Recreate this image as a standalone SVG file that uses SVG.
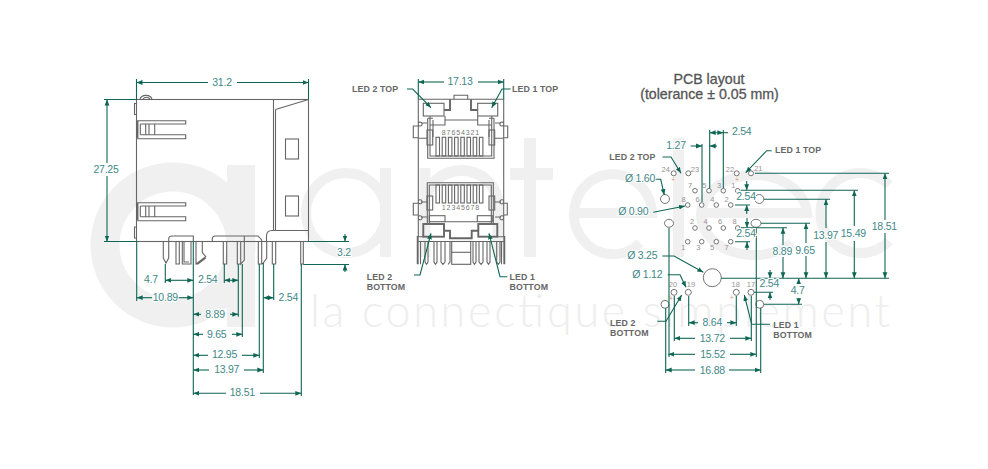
<svg xmlns="http://www.w3.org/2000/svg" width="988" height="469" viewBox="0 0 988 469">
<style>
text{font-family:"Liberation Sans",Arial,sans-serif}
.wm{fill:none;stroke:#f0f0f0}
.wt{font-family:"Lato","Liberation Sans",sans-serif;font-weight:300;font-size:45px;fill:#eeeeee}
.s{fill:none;stroke:#666;stroke-width:1.1}
.b{fill:none;stroke:#666;stroke-width:1.9}
.h{fill:#fff;stroke:#666;stroke-width:.9}
.d{fill:none;stroke:#0f6654;stroke-width:1.1}
.a{fill:none;stroke:#0f6654;stroke-width:1.1;marker-end:url(#ah)}
.t{font-size:10.5px;letter-spacing:-.25px;fill:#3f8888;text-anchor:middle;stroke:#fff;stroke-width:2px;paint-order:stroke}
.l{font-size:8.8px;font-weight:700;fill:#666;letter-spacing:.1px}
.n{font-size:7.5px;fill:#9a8f92;text-anchor:middle}
.p{font-size:7px;fill:#d39a7a;text-anchor:middle}
.c{font-size:7px;fill:#777;text-anchor:middle;letter-spacing:.9px}
.ti{font-size:14.2px;fill:#555;text-anchor:middle;stroke:#555;stroke-width:.3px}
</style>
<defs>
<marker id="ah" markerUnits="userSpaceOnUse" markerWidth="7" markerHeight="6" refX="6" refY="3" orient="auto"><path d="M0 .6L6 3L0 5.4z" fill="#0f6654"/></marker>
</defs>
<g id="watermark">
<circle class="wm" cx="173" cy="245" r="68" stroke-width="29"/>
<rect x="227" y="165" width="28" height="162" fill="#f0f0f0"/>
<circle class="wm" cx="346" cy="213" r="40" stroke-width="10"/>
<rect x="380" y="168" width="11" height="89" fill="#f0f0f0"/>
<path class="wm" stroke-width="11" d="M425 168V257M425 205A35 33 0 0 1 498 205V257"/>
<path class="wm" stroke-width="12" d="M530 138V257M510 174H553"/>
<path class="wm" stroke-width="10" d="M575 213H652A39 40 0 1 0 640 243"/>
<rect x="673" y="138" width="11" height="119" fill="#f0f0f0"/>
<path class="wm" stroke-width="10" d="M700 213H807A53 40 0 1 0 792 243"/>
<path class="wm" stroke-width="10" d="M889 185A40 40 0 1 0 889 241"/>
<text class="wt" x="310" y="327" textLength="580" lengthAdjust="spacing">la connectique simplement</text>
</g>
<g id="side-view">
<rect class="s" x="136.5" y="99.5" width="172" height="142"/>
<path class="s" d="M140 99.5C141 94 151 94 152 99.5M143 99.5C144 96.5 149 96.5 150 99.5"/>
<path class="s" d="M136.5 103.500H134.500V114.500H136.500M136.500 227H134.500V238H136.500"/>
<path class="s" d="M273.500 99.500V230.500M275.500 109.500V230.500M275.500 109.500L308.500 99.500"/>
<rect class="s" x="285.500" y="139" width="13" height="20"/>
<rect class="s" x="285.500" y="196" width="13" height="20"/>
<path class="s" d="M266.500 241.500V236Q266.500 230.500 272 230.500H308.500"/>
<g id="clip-top">
<path class="b" d="M137.500 120.500V138.500"/>
<path class="s" d="M137.500 120.700H185.700V124H140.300M137.500 138.700H185.700V134.700H140.300"/>
<path class="s" d="M140.300 124V134.700M145.700 124V134.700M149 124V134.700M154.700 124V134.700"/>
</g>
<g id="clip-bottom">
<path class="b" d="M137.500 202.500V220.500"/>
<path class="s" d="M137.500 202.700H185.700V206H140.300M137.500 220.700H185.700V216.700H140.300"/>
<path class="s" d="M140.300 206V216.700M145.700 206V216.700M149 206V216.700M154.700 206V216.700"/>
</g>
<g id="pins-side">
<path class="s" d="M163.300 241.500V258L166 263L168.700 258V241.500M168.700 241.500V239Q168.700 236 172 236H193.300V241.500"/>
<path class="s" d="M176 241.500V264H179.300V241.500M182.300 241.500V264H191V241.500M184 241.500V262H189"/>
<path class="s" d="M196 241.500V264L205.700 256.700L202.300 252.500V241.500M196 264H198L205.700 258"/>
<path class="s" d="M223.300 241.500V264H226.700V241.500M237.300 241.500V264H240.700V241.500M240.700 241.500V264L244.300 260V236"/>
<path class="s" d="M212.300 241.500V239Q212.300 236 215 236H258L261.700 240V241.500"/>
<path class="s" d="M258.300 241.500V264H261.700V241.500M263.300 263L266.700 258V241.500M261.700 264L263.300 263"/>
<path class="s" d="M272.300 241.500V264H275.700V241.500M300.700 241.500V264H303.300V241.500"/>
</g>
</g>
<g id="front-view">
<path class="s" d="M418.300 99.300H503.700V237M418.300 99.300V237"/>
<path class="s" d="M454 99.300V95.300H467.700V99.300"/>
<rect class="s" x="423.300" y="103.300" width="20.700" height="12.700"/>
<rect class="s" x="477.700" y="103.300" width="20" height="12.700"/>
<path class="b" d="M444 110H450V99.300M477.700 110H471V99.300"/>
<path class="s" d="M430 116V120M445 116V125H430M445 120H477.700M477.700 116V125H491.700M491.700 116V120"/>
<path class="s" d="M427.700 118.300H433M494 118.300H489M427.700 118.300V158.300H494V118.300M430 120V156H491.700V120"/>
<path class="s" d="M433 120V137M489 120V137"/>
<g id="comb-top" class="s">
<rect x="436" y="137.300" width="3.500" height="18.700"/><rect x="442.200" y="137.300" width="3.500" height="18.700"/><rect x="448.400" y="137.300" width="3.500" height="18.700"/><rect x="454.600" y="137.300" width="3.500" height="18.700"/><rect x="460.800" y="137.300" width="3.500" height="18.700"/><rect x="467" y="137.300" width="3.500" height="18.700"/><rect x="473.200" y="137.300" width="3.500" height="18.700"/><rect x="479.400" y="137.300" width="3.500" height="18.700"/>
</g>
<rect class="s" x="427" y="130" width="5.700" height="15"/>
<rect class="s" x="489" y="130" width="5.700" height="15"/>
<path class="s" d="M418.300 126H413.300V137.700H418.300M503.700 126H507.700V137.700H503.700"/>
<path class="s" d="M418.300 123.300A2 2 0 1 1 418.300 124.800M418.300 138.300H427M503.700 123.300A2 2 0 1 0 503.700 124.800M503.700 138.300H495M421 123H427M495 123H501"/>
<text class="c" x="461" y="134.500">87654321</text>
<g id="comb-bottom" class="s">
<rect x="436" y="185" width="3.500" height="18"/><rect x="442.200" y="185" width="3.500" height="18"/><rect x="448.400" y="185" width="3.500" height="18"/><rect x="454.600" y="185" width="3.500" height="18"/><rect x="460.800" y="185" width="3.500" height="18"/><rect x="467" y="185" width="3.500" height="18"/><rect x="473.200" y="185" width="3.500" height="18"/><rect x="479.400" y="185" width="3.500" height="18"/>
</g>
<path class="s" d="M427.300 223V182.700H493.300V223M429.300 223V185H491.300V223M445 221.700H477.300"/>
<rect class="s" x="427" y="196" width="5.700" height="14"/>
<rect class="s" x="489" y="196" width="5.700" height="14"/>
<path class="s" d="M418.300 203.300H413.300V215H418.300M503.700 203.300H507.300V215H503.700"/>
<path class="s" d="M418.300 201A2 2 0 1 1 418.300 202.500M418.300 217A2 2 0 1 1 418.300 218.500M503.700 201A2 2 0 1 0 503.700 202.500M503.700 217A2 2 0 1 0 503.700 218.500M421 202H427M495 202H501M421 217H427M495 217H501"/>
<rect class="s" x="429.300" y="215.700" width="15.700" height="6"/>
<rect class="s" x="477.300" y="215.700" width="15" height="6"/>
<text class="c" x="461" y="210">12345678</text>
<rect class="b" x="423.300" y="224" width="20.700" height="12.700"/>
<rect class="b" x="478.300" y="224" width="19" height="12.700"/>
<path class="b" d="M444 230.700H450V238.300H471.700V230.700H478.300"/>
<path class="s" d="M418.300 241.500H504.300M418.300 236.700H423.300M497.300 236.700H503.700"/>
<g id="pins-front">
<path class="b" d="M417.700 236V264.300M504.300 236V264.300"/>
<path class="s" d="M420.500 241.500V264.300M501.500 241.500V264.300"/>
<path class="s" d="M425 241.500V262L426.500 264.300L428 262V241.500M434 241.500V262L435.500 264.300L437 262V241.500M441 241.500V262L443 264.300L445 262V241.500M450 241.500V262L448 264.300"/>
<path class="s" d="M473 241.500V262L474.500 264.300L476 262V241.500M479 241.500V262L481 264.300L483 262V241.500M487 241.500V262L488.500 264.300L490 262V241.500M496.700 241.500V262L498.300 264.300L500 262V241.500"/>
<rect class="s" x="451.700" y="241.500" width="19" height="22.800"/>
<path class="s" d="M451.700 252.300H470.700"/>
</g>
</g>
<g id="pcb-layout">
<text class="ti" x="709" y="84">PCB layout</text>
<text class="ti" x="709.500" y="99">(tolerance ± 0.05 mm)</text>
<g id="holes" class="h">
<circle cx="673.700" cy="173.300" r="2.500"/><circle cx="688.300" cy="173.300" r="2.500"/><circle cx="736.700" cy="173.300" r="2.500"/><circle cx="751" cy="173.300" r="2.500"/>
<circle cx="695" cy="190.700" r="2.300"/><circle cx="709" cy="190.700" r="2.300"/><circle cx="723.300" cy="190.700" r="2.300"/><circle cx="737.700" cy="190.700" r="2.300"/>
<circle cx="687.700" cy="205" r="2.300"/><circle cx="701.700" cy="205" r="2.300"/><circle cx="716.300" cy="205" r="2.300"/><circle cx="730.700" cy="205" r="2.300"/>
<circle cx="695" cy="228" r="2.300"/><circle cx="709" cy="228" r="2.300"/><circle cx="723.300" cy="228" r="2.300"/><circle cx="737.700" cy="228" r="2.300"/>
<circle cx="687.700" cy="241.700" r="2.300"/><circle cx="701.700" cy="241.700" r="2.300"/><circle cx="716.300" cy="241.700" r="2.300"/><circle cx="730.700" cy="241.700" r="2.300"/>
<circle cx="665" cy="199" r="4.500"/><circle cx="759.300" cy="199" r="4.500"/><ellipse cx="669" cy="223.300" rx="4.500" ry="4"/><ellipse cx="756" cy="223.300" rx="5" ry="4"/>
<circle cx="712.300" cy="277.700" r="9"/><circle cx="665" cy="304.300" r="4"/><circle cx="759.700" cy="304.300" r="4"/>
<circle cx="674" cy="292.300" r="3"/><circle cx="688.300" cy="292.300" r="3"/><circle cx="736.300" cy="292.300" r="3"/><circle cx="751" cy="292.300" r="3"/>
</g>
<g id="hole-labels">
<text class="n" x="665.700" y="171.500">24</text><text class="n" x="695" y="171.500">23</text><text class="n" x="730" y="171.500">22</text><text class="n" x="758.300" y="171">21</text>
<text class="n" x="690" y="188">7</text><text class="n" x="704.300" y="188">5</text><text class="n" x="719" y="188">3</text><text class="n" x="733.300" y="188">1</text>
<text class="n" x="683.700" y="202">8</text><text class="n" x="697.700" y="202">6</text><text class="n" x="712.300" y="202">4</text><text class="n" x="726.700" y="202">2</text>
<text class="n" x="692" y="223.500">2</text><text class="n" x="705.700" y="223.500">4</text><text class="n" x="720" y="223.500">6</text><text class="n" x="734.700" y="223.500">8</text>
<text class="n" x="683.300" y="250">1</text><text class="n" x="698.300" y="250">3</text><text class="n" x="712" y="250">5</text><text class="n" x="726.700" y="250">7</text>
<text class="n" x="673" y="287">20</text><text class="n" x="691" y="287">19</text><text class="n" x="735.700" y="286.500">18</text><text class="n" x="751" y="286.500">17</text>
<text class="p" x="673" y="182">+</text><text class="p" x="737" y="182">+</text><text class="p" x="671" y="301">+</text><text class="p" x="731.700" y="299.500">+</text>
</g>
</g>
<g id="connectors">
<g id="dims-side">
<path class="d" d="M136.500 79V99.500M308.500 79V99.500M104 99.500H136.500M104 241.500H136.500M308.500 241.500H349M303.300 264.500H349"/>
<path class="a" d="M208 82.500H136.500"/><path class="a" d="M237 82.500H308.500"/>
<path class="a" d="M107 163V99.500"/><path class="a" d="M107 176V241.500"/>
<path class="a" d="M345 234V241.500"/><path class="a" d="M345 272V264.500"/>
<path class="d" d="M165.300 264V283M193.300 241.500V395M224.300 264V283M238.300 264V316.700M136.700 241.500V301M242.300 264V337M259.300 264V358M263.300 263V373M301.300 264V396M273.700 264V300"/>
<path class="a" d="M179 280.300H165.300"/><path class="a" d="M179 280.300H193.300"/>
<path class="a" d="M231 280.300H224.300"/><path class="a" d="M231 280.300H238.300"/>
<path class="a" d="M152 297.700H136.700"/><path class="a" d="M178 297.700H193.300"/>
<path class="a" d="M201 314.300H193.300"/><path class="a" d="M230 314.300H238.300"/>
<path class="a" d="M203 334.300H193.300"/><path class="a" d="M232 334.300H242.300"/>
<path class="a" d="M208 355.300H193.300"/><path class="a" d="M242 355.300H259.300"/>
<path class="a" d="M209 370H193.300"/><path class="a" d="M244 370H263.300"/>
<path class="a" d="M226 393.300H193.300"/><path class="a" d="M260 393.300H301.300"/>
<path class="a" d="M268.500 297.700H263.300"/><path class="a" d="M268.500 297.700H273.700"/>
</g>
<g id="dims-front">
<path class="d" d="M418.300 79V99.300M503.700 79V99.300"/>
<path class="a" d="M444 82H418.300"/><path class="a" d="M478 82H503.700"/>
<path class="a" d="M407 89H412.700L431 107.700"/>
<path class="a" d="M510.700 89H502L491.700 107.700"/>
<path class="a" d="M414 275H420L431 233.300"/>
<path class="a" d="M507.300 276.700H500L489 233.300"/>
</g>
<g id="dims-pcb">
<path class="d" d="M721 278.300H889M755 173.300H889M741 190.300H858M764 199.300H830M761 223.300H810M741 227.700H787M754 292.300H773M764 304.300H802M735 205H750M735 241.700H750"/>
<path class="a" d="M885 220V173.300"/><path class="a" d="M885 233V278.300"/>
<path class="a" d="M854.300 226V190.300"/><path class="a" d="M854.300 241V278.300"/>
<path class="a" d="M826 228V199.300"/><path class="a" d="M826 242V278.300"/>
<path class="a" d="M806 243V223.300"/><path class="a" d="M806 256V278.300"/>
<path class="a" d="M783 245V227.700"/><path class="a" d="M783 257V278.300"/>
<path class="a" d="M770 270V278.300"/><path class="a" d="M770 300V292.300"/>
<path class="a" d="M798.700 284V278.300"/><path class="a" d="M798.700 298V304.300"/>
<path class="a" d="M746.700 181V190.300"/><path class="a" d="M746.700 214V205"/>
<path class="a" d="M747 218V227.700"/><path class="a" d="M747 250V241.700"/>
<path class="d" d="M669 228V357M756.300 228V357M665.700 308V373M760.700 308V373M674.300 296V341M751.300 296V341M688.700 296V326M736.300 296V326M702 144V202M709.700 130V188M723.300 130V188"/>
<path class="a" d="M698 322.700H688.700"/><path class="a" d="M727 322.700H736.300"/>
<path class="a" d="M695 338.300H674.300"/><path class="a" d="M730 338.300H751.300"/>
<path class="a" d="M695 354.300H668.300"/><path class="a" d="M730 354.300H756.300"/>
<path class="a" d="M695 370H665.700"/><path class="a" d="M729 370H760.700"/>
<path class="a" d="M690.700 146H702"/><path class="a" d="M717 146H709.700"/>
<path class="a" d="M716.500 132.700H709.700"/><path class="a" d="M716.500 132.700H723.300"/><path class="d" d="M723.300 132.700H728"/>
<path class="a" d="M655 179.300H660.700L664.300 195"/>
<path class="a" d="M653.300 212.300L685 206"/>
<path class="a" d="M662.300 256H674L703.300 272.300"/>
<path class="a" d="M667.700 274.700H680L686 287.300"/>
<path class="a" d="M662.500 157H671L681 173.300"/>
<path class="a" d="M771.700 150.700H766.700L745.700 172.700"/>
<path class="a" d="M657.300 321.300H666L681.700 295"/>
<path class="a" d="M770 324.300H751.700L744.300 295"/>
</g>
</g>
<g id="labels">
<text class="t" x="222" y="85.500">31.2</text>
<text class="t" x="106" y="172.500">27.25</text>
<text class="t" x="344" y="255.500">3.2</text>
<text class="t" x="151" y="282.500">4.7</text>
<text class="t" x="207.700" y="282.500">2.54</text>
<text class="t" x="165.300" y="300.800">10.89</text>
<text class="t" x="288.300" y="300.800">2.54</text>
<text class="t" x="215" y="317.500">8.89</text>
<text class="t" x="216.700" y="337.500">9.65</text>
<text class="t" x="224.500" y="357.500">12.95</text>
<text class="t" x="226.700" y="372.500">13.97</text>
<text class="t" x="242.300" y="395.500">18.51</text>
<text class="t" x="460" y="84.500">17.13</text>
<text class="l" x="352" y="92">LED 2 TOP</text>
<text class="l" x="512" y="92">LED 1 TOP</text>
<text class="l" x="366.700" y="280"><tspan x="366.700">LED 2</tspan><tspan x="366.700" dy="10">BOTTOM</tspan></text>
<text class="l" x="509.500" y="280"><tspan x="509.500">LED 1</tspan><tspan x="509.500" dy="10">BOTTOM</tspan></text>
<text class="l" x="609.300" y="160">LED 2 TOP</text>
<text class="l" x="775" y="153">LED 1 TOP</text>
<text class="l" x="610" y="325.500"><tspan x="610">LED 2</tspan><tspan x="610" dy="10">BOTTOM</tspan></text>
<text class="l" x="773.300" y="328"><tspan x="773.300">LED 1</tspan><tspan x="773.300" dy="10">BOTTOM</tspan></text>
<text class="t" x="676" y="148.500">1.27</text>
<text class="t" x="741.700" y="135">2.54</text>
<text class="t" x="640" y="182.300">Ø 1.60</text>
<text class="t" x="633.300" y="215.300">Ø 0.90</text>
<text class="t" x="642.300" y="259.300">Ø 3.25</text>
<text class="t" x="647.300" y="278.300">Ø 1.12</text>
<text class="t" x="746" y="200">2.54</text>
<text class="t" x="746" y="237">2.54</text>
<text class="t" x="884.300" y="230">18.51</text>
<text class="t" x="853.300" y="237">15.49</text>
<text class="t" x="825.700" y="239">13.97</text>
<text class="t" x="805" y="253.500">9.65</text>
<text class="t" x="782.300" y="255">8.89</text>
<text class="t" x="769.300" y="287">2.54</text>
<text class="t" x="797.700" y="293.500">4.7</text>
<text class="t" x="712.300" y="326">8.64</text>
<text class="t" x="712.300" y="341.500">13.72</text>
<text class="t" x="712.700" y="357.500">15.52</text>
<text class="t" x="712.300" y="373.500">16.88</text>
</g>
</svg>
